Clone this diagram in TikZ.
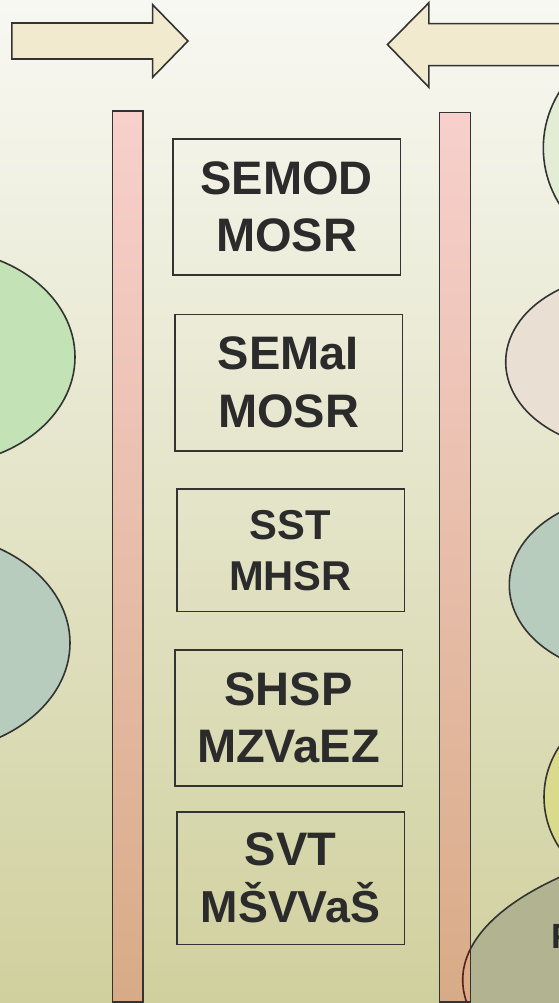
\documentclass[tikz,border=0pt]{standalone}
\usepackage{fontspec}
\setmainfont{Liberation Sans}
\definecolor{bgtop}{HTML}{F8F8F3}
\definecolor{bgbot}{HTML}{D0D09E}
\definecolor{arrowfill}{HTML}{F2EACF}
\definecolor{pinktop}{HTML}{F7D0CC}
\definecolor{pinkbot}{HTML}{D8AB87}
\definecolor{linecol}{HTML}{333333}
\definecolor{textcol}{HTML}{2B2B2B}
\definecolor{cgreen}{HTML}{C3E3B6}
\definecolor{cblue}{HTML}{B8CCBE}
\definecolor{clgreen}{HTML}{E3EDD6}
\definecolor{cbeige}{HTML}{E9DFD2}
\definecolor{cyellow}{HTML}{DADA8C}
\definecolor{colive}{HTML}{B2B390}
\definecolor{darkred}{HTML}{5A1F1A}
\tikzset{
  ell/.style={draw=linecol, line width=1.6pt},
  pillar/.style={draw=linecol, line width=1.6pt, top color=pinktop, bottom color=pinkbot},
  blockarrow/.style={draw=linecol, line width=1.6pt, fill=arrowfill, line join=miter},
  box/.style={draw=linecol, line width=1.6pt, inner sep=0pt, outer sep=0pt, align=center,
    text=textcol, font=\fontsize{47}{57.5}\selectfont\bfseries},
  smallbox/.style={box, font=\fontsize{41.7}{51}\selectfont\bfseries}
}
\begin{document}
\begin{tikzpicture}[x=1pt,y=-1pt]
\useasboundingbox (0,0) rectangle (559,1003);
\clip (0,0) rectangle (559,1003);
% background
\fill[top color=bgtop, bottom color=bgbot] (0,0) rectangle (559,1003);
% ellipses
\filldraw[ell, fill=cgreen] (-62,357) ellipse [x radius=137, y radius=108];
\filldraw[ell, fill=cblue] (-75,643) ellipse [x radius=145, y radius=110];
\filldraw[ell, fill=clgreen] (663.3,148) ellipse [x radius=120, y radius=112];
\filldraw[ell, fill=cbeige] (625.7,362) ellipse [x radius=120, y radius=87];
\filldraw[ell, fill=cblue] (629.3,585) ellipse [x radius=120, y radius=89];
\filldraw[ell, fill=cyellow] (644,797) ellipse [x radius=100, y radius=95];
\filldraw[ell, fill=colive] (842.7,980) ellipse [x radius=380, y radius=154];
\node[anchor=base west, text=textcol, font=\fontsize{35}{40}\selectfont\bfseries, inner sep=0pt] (ftext) at (551.7,948) {F};
% pillars
\path[pillar] (112.3,111) rectangle (142.7,1001.7);
\path[pillar] (439.6,112.7) rectangle (470.6,1002);
\begin{scope}
  \clip (440.4,112.7) rectangle (469.8,1002);
  \draw[draw=darkred, line width=1.6pt] (842.7,980) ellipse [x radius=380, y radius=154];
\end{scope}
% block arrows
\draw[blockarrow] (11.8,23) -- (152.6,23) -- (152.6,4.7) -- (188,41) -- (152.6,77.3) -- (152.6,59) -- (11.8,59) -- cycle;
\draw[blockarrow] (575,23.7) -- (428.9,23.7) -- (428.9,2.7) -- (387.5,44.6) -- (428.9,87.3) -- (428.9,65.7) -- (575,65.7) -- cycle;
% boxes
\node[box, minimum width=227.6, minimum height=135.7] (b1) at (286.5,206.9) {SEMOD\\MOSR};
\node[box, minimum width=227.6, minimum height=136.4] (b2) at (288.5,382.5) {SEMaI\\MOSR};
\node[smallbox, minimum width=227.6, minimum height=122.7] (b3) at (290.5,550.3) {SST\\MHSR};
\node[box, minimum width=227.6, minimum height=135.7] (b4) at (288.5,717.9) {SHSP\\MZVaEZ};
\node[box, minimum width=227.6, minimum height=132.6] (b5) at (290.5,878) {SVT\\{\fontsize{44.8}{57.5}\selectfont MŠVVaŠ}};
\end{tikzpicture}
\end{document}
